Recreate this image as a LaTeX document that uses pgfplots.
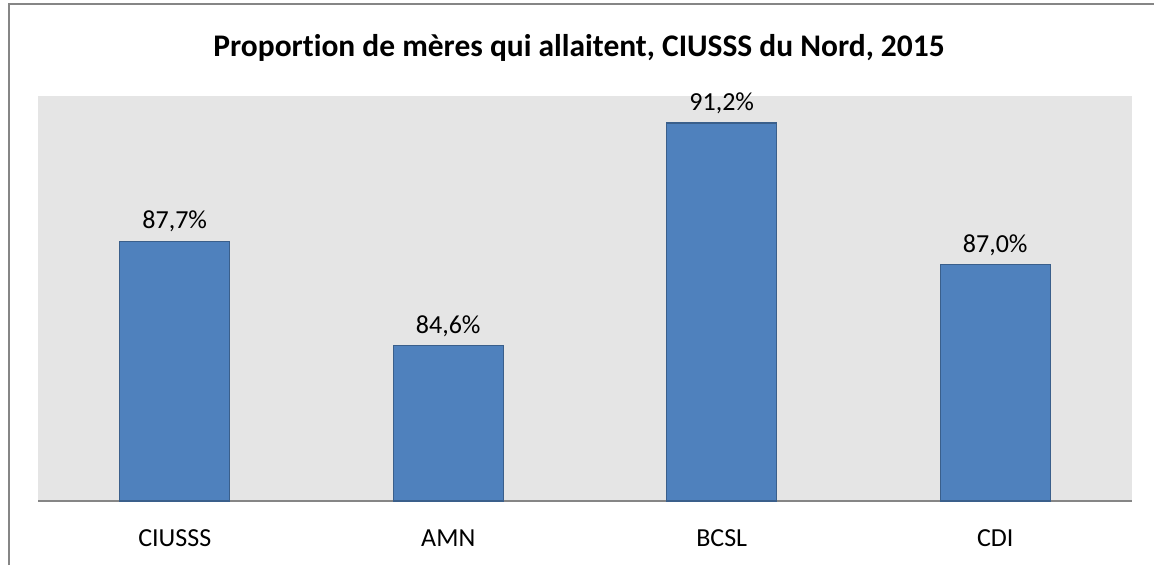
\documentclass[border=0pt]{standalone}
\usepackage{fontspec}
\setmainfont{Carlito}[Ligatures=NoCommon]
\usepackage{pgfplots}
\pgfplotsset{compat=1.18}
\definecolor{barfill}{HTML}{4F81BD}
\definecolor{baredge}{HTML}{3A5F8B}
\definecolor{plotbg}{HTML}{E5E5E5}
\definecolor{framegray}{HTML}{868686}

\begin{document}
\begin{tikzpicture}[x=0.75pt,y=0.75pt]
% page = 1154 x 565 px at 0.75pt/px, y counted up from the bottom
\useasboundingbox (0,0) rectangle (1154,565);
\draw[framegray,line width=1.5pt] (9,0) -- (9,561) -- (1154,561);
\node[font=\fontsize{23.6}{26}\selectfont\bfseries] at (579,517) {Proportion de mères qui allaitent, CIUSSS du Nord, 2015};
\begin{axis}[
  at={(28.5pt,48pt)},anchor=south west,
  scale only axis,
  width=820.5pt,height=303.75pt,
  ybar,bar width=82.5pt,
  xmin=-0.5,xmax=3.5,ymin=80,ymax=92,
  axis background/.style={fill=plotbg},
  axis x line=bottom,axis y line=none,
  x axis line style={-,draw=framegray,line width=0.9pt},
  xtick=data,xticklabels={CIUSSS,AMN,BCSL,CDI},
  major tick length=0pt,
  xticklabel style={font=\fontsize{19.5}{22}\selectfont,yshift=-18pt},
  nodes near coords={\pgfmathprintnumber[fixed,fixed zerofill,precision=1,use comma]{\pgfplotspointmeta}\%},
  nodes near coords style={font=\fontsize{19.5}{22}\selectfont,anchor=south,yshift=3pt},
  every node near coord/.append style={/pgf/number format/assume math mode=true},
  clip=false
]
\addplot[fill=barfill,draw=baredge,line width=0.8pt] coordinates {
  (0,87.7) (1,84.6) (2,91.2) (3,87.0)
};
\end{axis}
\end{tikzpicture}
\end{document}
